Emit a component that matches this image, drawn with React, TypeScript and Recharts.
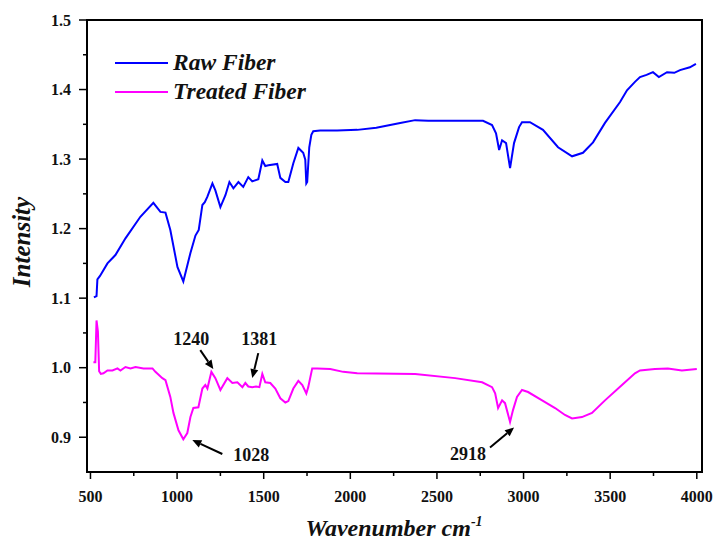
import React from 'react';
import { LineChart, Line, XAxis, YAxis, Legend, ReferenceArea, ReferenceDot, Label } from 'recharts';

const FONT = '"Liberation Serif", "Times New Roman", serif';

// FTIR spectra (wavenumber cm-1 / intensity)
const rawWavenumber = [
  520, 535, 540, 555, 598, 644, 702, 788, 863, 904, 933, 961, 1002, 1036, 1077, 1106, 1125, 1146, 1160, 1175,
  1204, 1221, 1250, 1279, 1302, 1325, 1354, 1382, 1411, 1434, 1469, 1492, 1509, 1527, 1578, 1596, 1625, 1642,
  1671, 1700, 1728, 1740, 1746, 1751, 1763, 1775, 1786, 1826, 1924, 2040, 2150, 2288, 2374, 2450, 2576, 2700,
  2766, 2818, 2841, 2859, 2876, 2899, 2922, 2945, 2974, 2991, 3037, 3112, 3199, 3280, 3343, 3401, 3470, 3557,
  3597, 3643, 3672, 3710, 3747, 3781, 3828, 3870, 3903, 3960, 3995,
];
const rawIntensity = [
  1.101, 1.103, 1.127, 1.132, 1.150, 1.162, 1.186, 1.217, 1.237, 1.224, 1.223, 1.198, 1.145, 1.124, 1.165, 1.190, 1.198, 1.234, 1.238, 1.246,
  1.265, 1.255, 1.231, 1.248, 1.267, 1.258, 1.267, 1.260, 1.274, 1.268, 1.271, 1.298, 1.290, 1.291, 1.293, 1.273, 1.267, 1.267,
  1.294, 1.316, 1.309, 1.299, 1.265, 1.267, 1.317, 1.335, 1.340, 1.341, 1.341, 1.342, 1.345, 1.352, 1.356, 1.355, 1.355, 1.355,
  1.355, 1.349, 1.337, 1.313, 1.327, 1.323, 1.287, 1.323, 1.346, 1.353, 1.353, 1.342, 1.317, 1.304, 1.309, 1.324, 1.352, 1.382,
  1.399, 1.411, 1.418, 1.421, 1.425, 1.418, 1.425, 1.424, 1.428, 1.432, 1.437,
];

const treatedWavenumber = [
  517, 528, 535, 543, 550, 560, 575, 598, 627, 656, 673, 702, 731, 760, 806, 858, 875, 915, 933, 961,
  979, 1008, 1036, 1059, 1077, 1094, 1123, 1146, 1163, 1175, 1198, 1221, 1250, 1290, 1319, 1348, 1377, 1394,
  1411, 1434, 1457, 1475, 1492, 1509, 1538, 1567, 1596, 1625, 1642, 1671, 1700, 1723, 1746, 1757, 1780, 1809,
  1884, 1959, 2040, 2374, 2605, 2761, 2818, 2836, 2853, 2876, 2893, 2922, 2939, 2962, 2991, 3026, 3107, 3182,
  3239, 3280, 3337, 3395, 3470, 3568, 3643, 3672, 3758, 3833, 3914, 4000,
];
const treatedIntensity = [
  1.008, 1.008, 1.068, 1.052, 0.995, 0.991, 0.992, 0.996, 0.996, 0.999, 0.996, 1.001, 0.999, 1.001, 0.999, 0.999, 0.994, 0.985, 0.982, 0.958,
  0.935, 0.910, 0.897, 0.906, 0.929, 0.942, 0.943, 0.970, 0.975, 0.970, 0.994, 0.985, 0.968, 0.985, 0.978, 0.979, 0.972, 0.978,
  0.973, 0.972, 0.973, 0.972, 0.991, 0.979, 0.978, 0.970, 0.956, 0.950, 0.952, 0.970, 0.981, 0.975, 0.963, 0.972, 0.999, 0.999,
  0.998, 0.994, 0.992, 0.991, 0.985, 0.979, 0.972, 0.963, 0.942, 0.953, 0.949, 0.922, 0.939, 0.958, 0.968, 0.965, 0.953, 0.942,
  0.932, 0.927, 0.929, 0.935, 0.953, 0.975, 0.992, 0.996, 0.998, 0.999, 0.996, 0.998,
];

const xTicks = [500, 750, 1000, 1250, 1500, 1750, 2000, 2250, 2500, 2750, 3000, 3250, 3500, 3750, 4000];
const yTicks = [0.9, 0.95, 1.0, 1.05, 1.1, 1.15, 1.2, 1.25, 1.3, 1.35, 1.4, 1.45, 1.5];

// peaks marked with arrows (arrow tip on the spectrum)
const peakLabels = ['1240', '1381', '1028', '2918'];
const peakX = [1209, 1434, 1088, 2945];
const peakY = [0.998, 0.985, 0.896, 0.914];

const rawData = rawWavenumber.map((w, i) => ({ w, v: rawIntensity[i] }));
const treatedData = treatedWavenumber.map((w, i) => ({ w, v: treatedIntensity[i] }));

// arrow tail + label offsets (px) relative to arrow tip
const arrowStyle: Record<string, { dx: number; dy: number; lx: number; ly: number }> = {
  '1240': { dx: -13, dy: -19, lx: -22, ly: -24 },
  '1381': { dx: 6, dy: -25, lx: 7, ly: -33 },
  '1028': { dx: 30, dy: 14, lx: 59, ly: 21 },
  '2918': { dx: -24, dy: 20, lx: -46, ly: 33 },
};

const makeArrow = (label: string) => (props: any) => {
  const { cx, cy } = props;
  const s = arrowStyle[label];
  const len = Math.sqrt(s.dx * s.dx + s.dy * s.dy);
  const ux = -s.dx / len;
  const uy = -s.dy / len;
  const head = 9;
  const bx = cx - ux * head;
  const by = cy - uy * head;
  const px = -uy * 4;
  const py = ux * 4;
  return (
    <g>
      <line x1={cx + s.dx} y1={cy + s.dy} x2={bx} y2={by} stroke="#000" strokeWidth={2} />
      <polygon points={`${cx},${cy} ${bx + px},${by + py} ${bx - px},${by - py}`} fill="#000" />
      <text x={cx + s.lx} y={cy + s.ly} textAnchor="middle" fontFamily={FONT} fontWeight="bold" fontSize={18} fill="#111">
        {label}
      </text>
    </g>
  );
};

const XTick = (props: any) => {
  const { x, y, payload } = props;
  const major = payload.value % 500 === 0;
  const axisY = y - 16;
  return (
    <g>
      <line x1={x} x2={x} y1={axisY} y2={axisY + (major ? 7 : 4)} stroke="#000" strokeWidth={1.5} />
      {major && (
        <text x={x} y={axisY + 30} textAnchor="middle" fontFamily={FONT} fontWeight="bold" fontSize={16} fill="#111">
          {payload.value}
        </text>
      )}
    </g>
  );
};

const YTick = (props: any) => {
  const { x, y, payload } = props;
  const v = payload.value;
  const major = Math.abs(v * 10 - Math.round(v * 10)) < 1e-6;
  const axisX = x + 16;
  return (
    <g>
      <line x1={axisX} x2={axisX - (major ? 8 : 4)} y1={y} y2={y} stroke="#000" strokeWidth={1.5} />
      {major && (
        <text x={axisX - 16} y={y} dy="0.35em" textAnchor="end" fontFamily={FONT} fontWeight="bold" fontSize={16} fill="#111">
          {v.toFixed(1)}
        </text>
      )}
    </g>
  );
};

const LegendBox = () => (
  <div style={{ fontFamily: FONT, fontWeight: 'bold', fontStyle: 'italic', fontSize: 23.5, color: '#111' }}>
    {[
      { name: 'Raw Fiber', color: '#0000ff' },
      { name: 'Treated Fiber', color: '#ff00ff' },
    ].map((item) => (
      <div key={item.name} style={{ display: 'flex', alignItems: 'center', height: 29, lineHeight: '29px' }}>
        <div style={{ width: 53, height: 2, background: item.color, marginRight: 5 }} />
        <span>{item.name}</span>
      </div>
    ))}
  </div>
);

export default function App() {
  return (
    <div style={{ position: 'fixed', left: 0, top: 0, background: '#fff' }}>
      <LineChart width={715} height={545} margin={{ top: 20, right: 13, left: 27, bottom: 33 }}>
        <XAxis
          dataKey="w"
          type="number"
          domain={[480, 4030]}
          allowDataOverflow
          ticks={xTicks}
          interval={0}
          tick={<XTick />}
          tickSize={8}
          tickMargin={8}
          tickLine={false}
          axisLine={false}
          height={40}
        >
          <Label
            content={() => (
              <text x={394} y={536} textAnchor="middle" fontFamily={FONT} fontWeight="bold" fontStyle="italic" fontSize={24} fill="#111">
                Wavenumber cm<tspan fontSize={14} dy={-10}>-1</tspan>
              </text>
            )}
          />
        </XAxis>
        <YAxis
          type="number"
          domain={[0.85, 1.5]}
          allowDataOverflow
          ticks={yTicks}
          interval={0}
          tick={<YTick />}
          tickSize={8}
          tickMargin={8}
          tickLine={false}
          axisLine={false}
          width={60}
        >
          <Label
            content={() => (
              <text
                x={30}
                y={242}
                transform="rotate(-90, 30, 242)"
                textAnchor="middle"
                fontFamily={FONT}
                fontWeight="bold"
                fontStyle="italic"
                fontSize={25}
                fill="#111"
              >
                Intensity
              </text>
            )}
          />
        </YAxis>
        <ReferenceArea x1={480} x2={4030} y1={0.85} y2={1.5} fill="none" stroke="#000" strokeWidth={2} ifOverflow="visible" />
        <Line data={rawData} dataKey="v" type="linear" stroke="#0000ff" strokeWidth={2} dot={false} isAnimationActive={false} />
        <Line data={treatedData} dataKey="v" type="linear" stroke="#ff00ff" strokeWidth={2} dot={false} isAnimationActive={false} />
        {peakLabels.map((label, i) => (
          <ReferenceDot key={label} x={peakX[i]} y={peakY[i]} ifOverflow="visible" shape={makeArrow(label)} />
        ))}
        <Legend
          layout="vertical"
          align="center"
          verticalAlign="middle"
          wrapperStyle={{ left: 115, top: 48, width: 'auto', height: 'auto' }}
          content={<LegendBox />}
        />
      </LineChart>
    </div>
  );
}
